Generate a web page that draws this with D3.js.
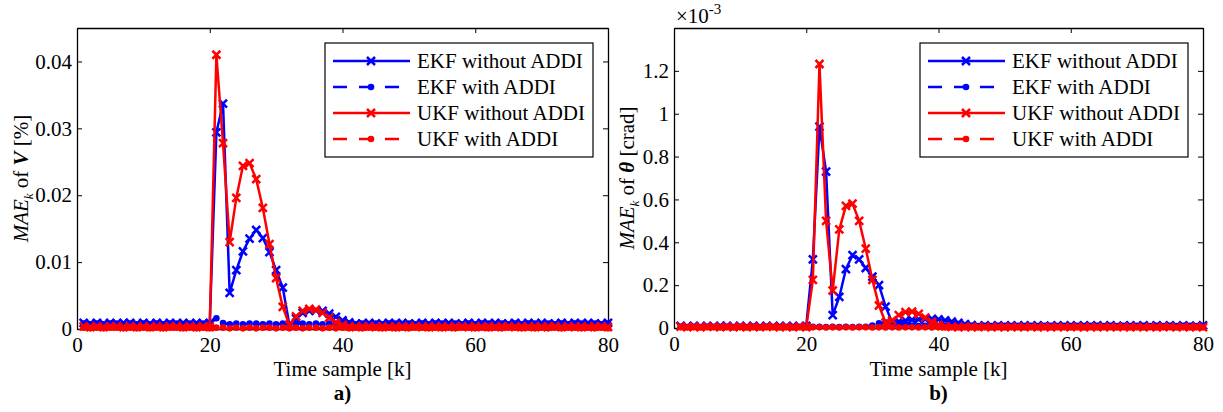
<!DOCTYPE html>
<html>
<head>
<meta charset="utf-8">
<script src="https://cdn.jsdelivr.net/npm/d3@7"></script>
<style>
  body { margin: 0; background: #fff; }
  svg text { font-family: "Times New Roman", Times, "Liberation Serif", "DejaVu Serif", "Noto Serif", serif; }
</style>
</head>
<body>
<div id="chart"></div>
<script>
// time samples k = 1..80
const samples = d3.range(1, 81)
const xTicks = [0, 20, 40, 60, 80]

// panel a) MAE of V [%]
const ekfNoAddiV = [
  .0009,.0008,.0009,.0008,.0009,.0008,.0009,.0009,.0008,.0009,
  .0008,.0009,.0008,.0009,.0008,.0009,.0008,.0009,.0008,.0009,
  .0294,.0337,.0054,.0088,.0116,.0135,.0148,.0136,.0115,.0088,
  .0062,.0006,.0016,.0024,.0027,.0028,.0027,.0023,.0018,.0013,
  .0010,.0008,.0008,.0009,.0008,.0008,.0009,.0008,.0009,.0008,
  .0008,.0009,.0008,.0009,.0008,.0009,.0008,.0008,.0009,.0008,
  .0009,.0008,.0009,.0008,.0008,.0009,.0008,.0009,.0008,.0009,
  .0008,.0008,.0009,.0008,.0009,.0008,.0009,.0008,.0008,.0009
]
const ekfAddiV = [
  .0008,.0007,.0008,.0007,.0008,.0008,.0007,.0008,.0007,.0008,
  .0007,.0008,.0007,.0008,.0008,.0007,.0008,.0007,.0008,.0007,
  .0016,.0009,.0007,.0008,.0007,.0008,.0008,.0007,.0008,.0007,
  .0008,.0007,.0008,.0008,.0007,.0008,.0007,.0008,.0007,.0008,
  .0008,.0007,.0008,.0007,.0008,.0007,.0008,.0008,.0007,.0008,
  .0007,.0008,.0007,.0008,.0008,.0007,.0008,.0007,.0008,.0007,
  .0008,.0008,.0007,.0008,.0007,.0008,.0007,.0008,.0008,.0007,
  .0008,.0007,.0008,.0007,.0008,.0008,.0007,.0008,.0007,.0008
]
const ukfNoAddiV = [
  .0004,.0003,.0004,.0003,.0004,.0004,.0003,.0004,.0003,.0004,
  .0003,.0004,.0003,.0004,.0004,.0003,.0004,.0003,.0004,.0003,
  .0410,.0278,.0130,.0196,.0244,.0248,.0224,.0181,.0127,.0076,
  .0033,.0006,.0019,.0027,.0030,.0029,.0024,.0017,.0010,.0006,
  .0004,.0003,.0004,.0004,.0003,.0004,.0003,.0004,.0003,.0004,
  .0004,.0003,.0004,.0003,.0004,.0003,.0004,.0004,.0003,.0004,
  .0003,.0004,.0003,.0004,.0004,.0003,.0004,.0003,.0004,.0003,
  .0004,.0004,.0003,.0004,.0003,.0004,.0003,.0004,.0004,.0003
]
const ukfAddiV = [
  .0002,.0001,.0002,.0001,.0002,.0002,.0001,.0002,.0001,.0002,
  .0001,.0002,.0001,.0002,.0002,.0001,.0002,.0001,.0002,.0001,
  .0002,.0002,.0001,.0002,.0001,.0002,.0001,.0002,.0002,.0001,
  .0002,.0001,.0002,.0001,.0002,.0002,.0001,.0002,.0001,.0002,
  .0001,.0002,.0001,.0002,.0002,.0001,.0002,.0001,.0002,.0001,
  .0002,.0002,.0001,.0002,.0001,.0002,.0001,.0002,.0002,.0001,
  .0002,.0001,.0002,.0001,.0002,.0002,.0001,.0002,.0001,.0002,
  .0001,.0002,.0001,.0002,.0002,.0001,.0002,.0001,.0002,.0001
]
const yTicksV = [0, 0.01, 0.02, 0.03, 0.04]

// panel b) MAE of theta [crad], in units of 1e-3
const ekfNoAddiT = [
  .010,.008,.010,.008,.010,.008,.010,.010,.008,.010,
  .008,.010,.008,.010,.008,.010,.008,.010,.008,.010,
  .320,.940,.730,.060,.145,.275,.340,.320,.280,.240,
  .200,.100,.025,.030,.034,.038,.040,.042,.042,.040,
  .036,.030,.024,.018,.013,.010,.012,.010,.012,.010,
  .012,.010,.012,.010,.012,.010,.010,.012,.010,.012,
  .010,.012,.010,.012,.010,.012,.010,.010,.012,.010,
  .012,.010,.012,.010,.012,.010,.012,.010,.010,.012
]
const ekfAddiT = [
  .006,.005,.006,.005,.006,.006,.005,.006,.005,.006,
  .005,.006,.005,.006,.006,.005,.006,.005,.006,.005,
  .006,.006,.005,.006,.005,.006,.005,.006,.006,.012,
  .022,.025,.022,.018,.014,.010,.009,.010,.009,.010,
  .009,.010,.010,.009,.010,.009,.010,.009,.010,.010,
  .009,.010,.009,.010,.009,.010,.010,.009,.010,.009,
  .010,.009,.010,.010,.009,.010,.009,.010,.009,.010,
  .010,.009,.010,.009,.010,.009,.010,.010,.009,.010
]
const ukfNoAddiT = [
  .006,.004,.006,.004,.006,.006,.004,.006,.004,.006,
  .004,.006,.004,.006,.006,.004,.006,.004,.006,.004,
  .225,1.232,.500,.175,.460,.570,.580,.500,.370,.225,
  .105,.025,.035,.060,.074,.076,.066,.048,.028,.015,
  .008,.005,.004,.005,.004,.005,.005,.004,.005,.004,
  .005,.004,.005,.005,.004,.005,.004,.005,.004,.005,
  .005,.004,.005,.004,.005,.004,.005,.005,.004,.005,
  .004,.005,.004,.005,.005,.004,.005,.004,.005,.004
]
const ukfAddiT = [
  .003,.002,.003,.002,.003,.003,.002,.003,.002,.003,
  .002,.003,.002,.003,.003,.002,.003,.002,.003,.002,
  .003,.003,.002,.003,.002,.003,.002,.003,.003,.002,
  .003,.002,.003,.002,.003,.003,.002,.003,.002,.003,
  .002,.003,.002,.003,.003,.002,.003,.002,.003,.002,
  .003,.003,.002,.003,.002,.003,.002,.003,.003,.002,
  .003,.002,.003,.002,.003,.003,.002,.003,.002,.003,
  .002,.003,.002,.003,.003,.002,.003,.002,.003,.002
]
const yTicksT = [0, 0.2, 0.4, 0.6, 0.8, 1, 1.2]

const seriesNames = ['EKF without ADDI', 'EKF with ADDI', 'UKF without ADDI', 'UKF with ADDI']
const seriesColors = ['#0000ff', '#0000ff', '#ff0000', '#ff0000']
const seriesDashed = [false, true, false, true]
const seriesMarker = ['x', 'dot', 'x', 'dot']

const W = 1223, H = 412
const svg = d3.select('#chart').append('svg')
    .attr('width', W)
    .attr('height', H)
    .style('background', '#fff')

function drawPanel(opts){
    const { left, right, top, bottom, yMax, yTicks, yFmt, series } = opts

    const xScale = d3.scaleLinear().domain([0, 80]).range([left, right])
    const yScale = d3.scaleLinear().domain([0, yMax]).range([bottom, top])

    const g = svg.append('g')

    // axes with inward ticks (box on)
    g.append('g')
        .attr('transform', `translate(0, ${bottom})`)
        .call(d3.axisBottom(xScale).tickValues(xTicks).tickSize(-5).tickSizeOuter(0).tickPadding(8))
    g.append('g')
        .attr('transform', `translate(0, ${top})`)
        .call(d3.axisTop(xScale).tickValues(xTicks).tickSize(-5).tickSizeOuter(0).tickFormat(''))
    g.append('g')
        .attr('transform', `translate(${left}, 0)`)
        .call(d3.axisLeft(yScale).tickValues(yTicks).tickSize(-5).tickSizeOuter(0).tickPadding(5).tickFormat(yFmt))
    g.append('g')
        .attr('transform', `translate(${right}, 0)`)
        .call(d3.axisRight(yScale).tickValues(yTicks).tickSize(-5).tickSizeOuter(0).tickFormat(''))

    g.selectAll('.domain').attr('stroke', '#000').attr('stroke-width', 1.3)
    g.selectAll('.tick line').attr('stroke', '#000')
    g.selectAll('.tick text')
        .attr('font-size', 21)
        .attr('fill', '#000')

    // series
    const lineGen = d3.line()
        .x((d, i) => xScale(samples[i]))
        .y(d => yScale(d))

    series.forEach((vals, s) => {
        const sg = g.append('g')
        sg.append('path')
            .attr('d', lineGen(vals))
            .attr('fill', 'none')
            .attr('stroke', seriesColors[s])
            .attr('stroke-width', 2.5)
            .attr('stroke-dasharray', seriesDashed[s] ? '10,8' : null)
        const pts = sg.selectAll('.pt')
            .data(vals)
            .join('g')
            .attr('transform', (d, i) => `translate(${xScale(samples[i])}, ${yScale(d)})`)
        if (seriesMarker[s] === 'x') {
            pts.append('path')
                .attr('d', 'M-4,-4L4,4M-4,4L4,-4')
                .attr('stroke', seriesColors[s])
                .attr('stroke-width', 2.5)
        } else {
            pts.append('circle')
                .attr('r', 3.3)
                .attr('fill', seriesColors[s])
        }
    })

    // legend
    const lgW = 268, lgH = 114
    const lgX = right - 15 - lgW, lgY = top + 15
    const lg = g.append('g').attr('transform', `translate(${lgX}, ${lgY})`)
    lg.append('rect')
        .attr('width', lgW).attr('height', lgH)
        .attr('fill', '#fff').attr('stroke', '#000').attr('stroke-width', 1.2)
    seriesNames.forEach((name, s) => {
        const yy = 18 + s * 26
        lg.append('line')
            .attr('x1', 8).attr('x2', 85).attr('y1', yy).attr('y2', yy)
            .attr('stroke', seriesColors[s]).attr('stroke-width', 2.5)
            .attr('stroke-dasharray', seriesDashed[s] ? '14,12' : null)
        if (seriesMarker[s] === 'x') {
            lg.append('path')
                .attr('transform', `translate(46, ${yy})`)
                .attr('d', 'M-4,-4L4,4M-4,4L4,-4')
                .attr('stroke', seriesColors[s]).attr('stroke-width', 2.5)
        } else {
            lg.append('circle')
                .attr('cx', 46).attr('cy', yy).attr('r', 3.3)
                .attr('fill', seriesColors[s])
        }
        lg.append('text')
            .attr('x', 92).attr('y', yy + 7)
            .attr('font-size', 21)
            .text(name)
    })

    // x label and panel letter
    const cx = (left + right) / 2
    g.append('text')
        .attr('x', cx).attr('y', 376)
        .attr('text-anchor', 'middle')
        .attr('font-size', 21)
        .text('Time sample [k]')
    g.append('text')
        .attr('x', cx).attr('y', 400)
        .attr('text-anchor', 'middle')
        .attr('font-size', 21)
        .attr('font-weight', 'bold')
        .text(opts.letter)

    // y label
    const yl = g.append('text')
        .attr('transform', `translate(${opts.yLabelX}, ${(top + bottom) / 2}) rotate(-90)`)
        .attr('text-anchor', 'middle')
        .attr('font-size', 21)
    yl.append('tspan').attr('font-style', 'italic').text('MAE')
    yl.append('tspan').attr('font-style', 'italic').attr('font-size', 13).attr('dy', 5).text('k')
    yl.append('tspan').attr('dy', -5).text(' of ')
    yl.append('tspan').attr('font-style', 'italic').attr('font-weight', 'bold').text(opts.symbol)
    yl.append('tspan').text(' ' + opts.unit)

    return g
}

drawPanel({
    left: 77, right: 608, top: 28, bottom: 329,
    yMax: 0.045, yTicks: yTicksV,
    yFmt: d => d === 0 ? '0' : d3.format('.2f')(d),
    series: [ekfNoAddiV, ekfAddiV, ukfNoAddiV, ukfAddiV],
    letter: 'a)', yLabelX: 28, symbol: 'V', unit: '[%]'
})

const gb = drawPanel({
    left: 674, right: 1203, top: 28, bottom: 328,
    yMax: 1.4, yTicks: yTicksT,
    yFmt: d => String(+d.toFixed(1)),
    series: [ekfNoAddiT, ekfAddiT, ukfNoAddiT, ukfAddiT],
    letter: 'b)', yLabelX: 634, symbol: 'θ', unit: '[crad]'
})

// exponent label
const ex = gb.append('text')
    .attr('x', 676).attr('y', 23)
    .attr('font-size', 21)
ex.append('tspan').text('×10')
ex.append('tspan').attr('font-size', 15).attr('dy', -9).text('-3')
</script>
</body>
</html>
